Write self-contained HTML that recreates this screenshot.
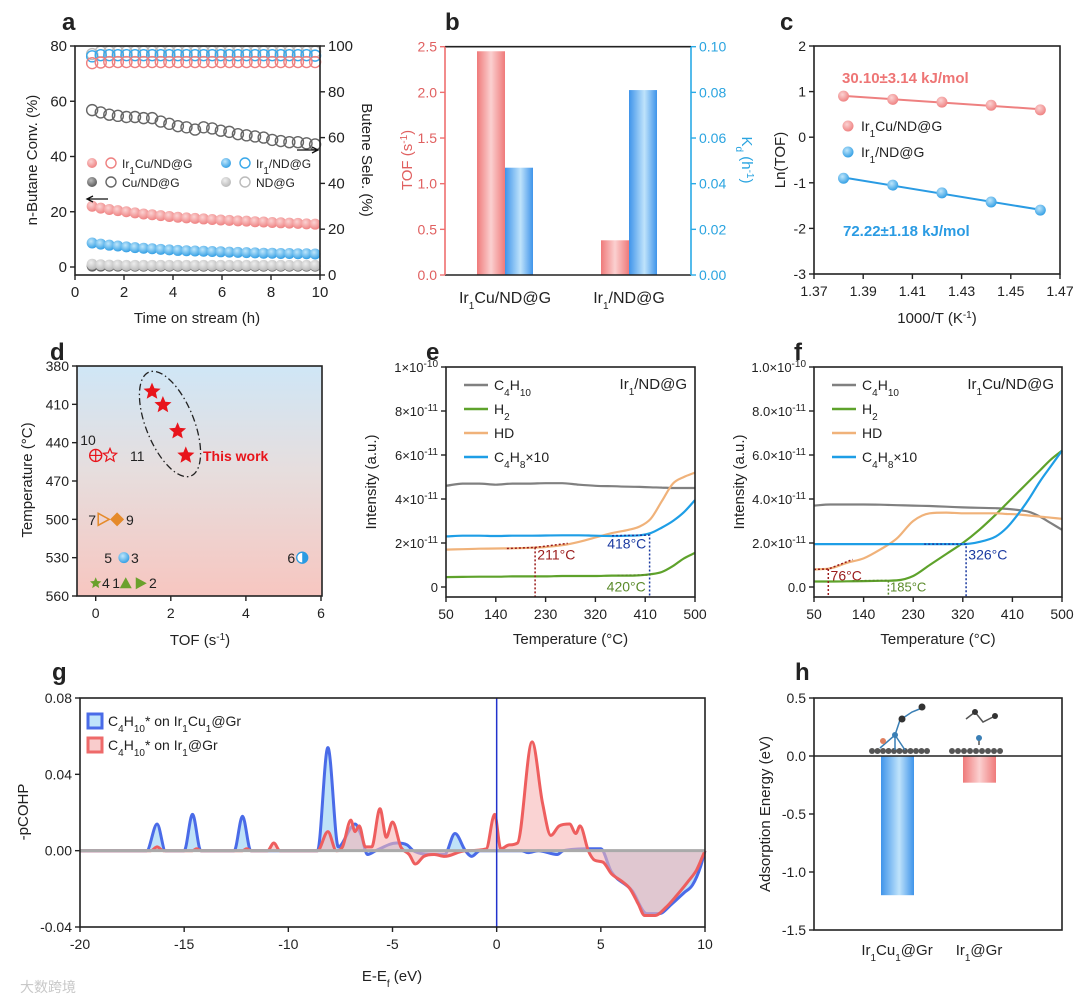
<!DOCTYPE html>
<html><head><meta charset="utf-8">
<style>
html,body{margin:0;padding:0;background:#fff;}
svg{display:block;font-family:"Liberation Sans",Arial,sans-serif;}
</style></head>
<body>
<svg id="fig" width="1080" height="1001" viewBox="0 0 1080 1001" xmlns="http://www.w3.org/2000/svg">
<defs>
<linearGradient id="gRedBar" x1="0" x2="1" y1="0" y2="0"><stop offset="0" stop-color="#ef7a7a"/><stop offset="0.5" stop-color="#fbd0d0"/><stop offset="1" stop-color="#ef7a7a"/></linearGradient>
<linearGradient id="gBlueBar" x1="0" x2="1" y1="0" y2="0"><stop offset="0" stop-color="#3f94ea"/><stop offset="0.55" stop-color="#bfe3fb"/><stop offset="1" stop-color="#3f94ea"/></linearGradient>
<linearGradient id="gBg" x1="0" x2="0" y1="0" y2="1"><stop offset="0" stop-color="#cfe6f6"/><stop offset="0.45" stop-color="#e6dede"/><stop offset="1" stop-color="#f7c6c0"/></linearGradient>
<radialGradient id="ballR" cx="0.4" cy="0.35" r="0.7"><stop offset="0" stop-color="#fbd3d3"/><stop offset="1" stop-color="#ee7d7d"/></radialGradient>
<radialGradient id="ballB" cx="0.4" cy="0.35" r="0.7"><stop offset="0" stop-color="#bfe6fb"/><stop offset="1" stop-color="#2b9be3"/></radialGradient>
<radialGradient id="ballK" cx="0.4" cy="0.35" r="0.7"><stop offset="0" stop-color="#bbb"/><stop offset="1" stop-color="#555"/></radialGradient>
<radialGradient id="ballG" cx="0.4" cy="0.35" r="0.7"><stop offset="0" stop-color="#eee"/><stop offset="1" stop-color="#b5b5b5"/></radialGradient>
</defs>
</svg>
<script>
// ---------- data ----------
const aTime = [0.7,1.05,1.4,1.75,2.1,2.45,2.8,3.15,3.5,3.85,4.2,4.55,4.9,5.25,5.6,5.95,6.3,6.65,7.0,7.35,7.7,8.05,8.4,8.75,9.1,9.45,9.8];
const aConvIrCu = [22,21.3,20.8,20.4,20,19.6,19.2,18.9,18.6,18.3,18,17.8,17.6,17.4,17.2,17,16.9,16.7,16.6,16.4,16.3,16.1,16,15.9,15.8,15.6,15.5];
const aConvIr = [8.7,8.3,7.9,7.6,7.3,7,6.8,6.6,6.4,6.2,6.0,5.9,5.8,5.7,5.6,5.5,5.4,5.3,5.2,5.1,5.0,5.0,4.9,4.9,4.8,4.8,4.7];
const aConvCu = [0.3,0.3,0.3,0.3,0.3,0.3,0.3,0.3,0.3,0.3,0.3,0.3,0.3,0.3,0.3,0.3,0.3,0.3,0.3,0.3,0.3,0.3,0.3,0.3,0.3,0.3,0.3];
const aConvND = [1.0,0.8,0.7,0.7,0.6,0.6,0.6,0.6,0.6,0.6,0.6,0.6,0.6,0.6,0.6,0.6,0.6,0.6,0.6,0.6,0.6,0.6,0.6,0.6,0.6,0.6,0.6];
const aSelIrCu = [92.5,92.8,93,93,93,93,93,93,93,93,93,93,93,93,93,93,93,93,93,93,93,93,93,93,93,93,93];
const aSelIr = [95.5,96,96,96,96,96,96,96,96,96,96,96,96,96,96,96,96,96,96,96,96,96,96,96,96,96,95.8];
const aSelND = [96.5,97.5,97.5,97.5,97.5,97.5,97.5,97.5,97.5,97.5,97.5,97.5,97.5,97.5,97.5,97.5,97.5,97.5,97.5,97.5,97.5,97.5,97.5,97.5,97.5,97.5,97.5];
const aSelCu = [72,71,70,69.5,69,69,68.5,68.5,67,66,65,64.5,63.5,64.5,64,63,62.5,61.5,61,60.5,60,59,58.5,58,58,57.5,57];

const bCats = ['Ir1Cu/ND@G','Ir1/ND@G'];
const bTOF = [2.45,0.38];
const bKd = [0.047,0.081];

const cX = [1.382,1.402,1.422,1.442,1.462];
const cIrCu = [0.90,0.83,0.77,0.70,0.60];
const cIr = [-0.90,-1.05,-1.22,-1.42,-1.60];

const dStarsTOF = [1.5,1.79,2.18,2.4];
const dStarsT = [400,410.5,431,450];

const eT = [50,80,110,140,170,200,230,260,290,320,350,380,400,420,440,460,480,500];
const eC4H10 = [4.6,4.7,4.7,4.65,4.7,4.7,4.72,4.72,4.65,4.6,4.58,4.56,4.55,4.53,4.52,4.5,4.5,4.5];
const eH2 = [0.45,0.46,0.47,0.47,0.48,0.48,0.48,0.5,0.5,0.5,0.52,0.52,0.53,0.58,0.68,0.95,1.3,1.55];
const eHD = [1.7,1.72,1.74,1.75,1.76,1.78,1.82,1.9,2.05,2.25,2.45,2.6,2.75,3.1,3.9,4.7,5.0,5.2];
const eC4H8 = [2.3,2.33,2.33,2.32,2.33,2.33,2.34,2.35,2.35,2.33,2.32,2.33,2.35,2.45,2.7,3.0,3.4,3.95];

const fC4H10 = [3.7,3.75,3.75,3.75,3.74,3.72,3.7,3.68,3.65,3.62,3.6,3.58,3.55,3.5,3.42,3.2,2.9,2.6];
const fH2 = [0.25,0.25,0.26,0.27,0.28,0.3,0.5,1.0,1.5,2.0,2.6,3.3,3.8,4.3,4.8,5.3,5.8,6.2];
const fHD = [0.8,0.85,1.1,1.3,1.7,2.2,3.0,3.35,3.38,3.35,3.35,3.35,3.32,3.3,3.25,3.2,3.15,3.1];
const fC4H8 = [1.95,1.95,1.95,1.95,1.95,1.95,1.95,1.95,1.95,1.95,2.05,2.3,2.7,3.3,4.0,4.8,5.5,6.2];

const gRedE = [-20,-16.6,-16.3,-16,-14.6,-14.4,-14.2,-12.2,-12.0,-11.8,-11,-10.7,-10.4,-8.6,-8.1,-7.7,-7.4,-7.0,-6.8,-6.6,-6.3,-6.0,-5.6,-5.3,-5.0,-4.6,-4.2,-3.9,-3.5,-3.0,-2.5,-1.5,-0.5,-0.1,0.2,0.6,1.0,1.7,2.2,2.6,3.0,3.5,3.8,4.0,4.4,4.7,5.1,5.5,6.0,6.4,6.8,7.1,7.6,8.1,8.6,9.2,9.6,10];
const gRedV = [0,0,0.002,0,0,0.001,0,0,0.001,0,0,0.004,0,0,0.010,0,0.002,0.016,0.010,0.013,0.002,0.002,0.022,0.007,0.015,0.002,-0.002,-0.007,-0.003,-0.002,-0.003,0,0.001,0.019,0.001,0.003,0.004,0.057,0.025,0.008,0.013,0.014,0.009,0.013,0,-0.005,-0.006,-0.012,-0.016,-0.020,-0.028,-0.034,-0.034,-0.030,-0.024,-0.016,-0.010,0];
const gBlueE = [-20,-16.8,-16.3,-15.9,-15.0,-14.6,-14.2,-12.6,-12.2,-11.8,-8.6,-8.1,-7.6,-7.0,-6.8,-6.5,-6.2,-5.8,-4.8,-4.3,-4.0,-3.0,-2.5,-2.0,-1.5,-1.2,-0.8,1.2,1.5,2,2.9,3.2,4.5,5,5.5,6.5,7.2,7.8,8.4,9.0,9.4,9.8,10];
const gBlueV = [0,0,0.014,0,0,0.019,0,0,0.018,0,0,0.054,0.002,0.012,0.014,0.008,-0.002,0,0.004,0.003,0,-0.002,-0.002,0.009,0,-0.003,0,0,-0.001,0,-0.002,0,0.001,0.001,-0.011,-0.021,-0.033,-0.033,-0.028,-0.022,-0.018,-0.008,0];

const hCats = ['Ir1Cu1@Gr','Ir1@Gr'];
const hE = [-1.2,-0.23];

// ---------- helpers ----------
const svg = document.getElementById('fig');
const NS = 'http://www.w3.org/2000/svg';
function mk(tag, attrs, name, parent){
  const el = document.createElementNS(NS, tag);
  for (const k in attrs) el.setAttribute(k, attrs[k]);
  
  
  (parent||svg).appendChild(el);
  return el;
}
function txt(x,y,html,name,opt){
  opt = opt||{};
  const el = mk('text',{x:x,y:y,'font-size':opt.size||14,'text-anchor':opt.anchor||'middle',fill:opt.fill||'#222','font-weight':opt.weight||'normal'},name);
  if (opt.rot!==undefined) el.setAttribute('transform','rotate('+opt.rot+' '+x+' '+y+')');
  el.innerHTML = html;
  return el;
}
const sub = s => '<tspan baseline-shift="sub" font-size="10">'+s+'</tspan>';
const sup = s => '<tspan baseline-shift="super" font-size="10">'+s+'</tspan>';
function lin(d0,d1,p0,p1){ return v => p0 + (v-d0)*(p1-p0)/(d1-d0); }
function box(x0,y0,x1,y1,name){ mk('rect',{x:x0,y:y0,width:x1-x0,height:y1-y0,fill:'none',stroke:'#222','stroke-width':1.6},name); }
function yTicks(sc,x,vals,labels,side,name,opt){
  opt=opt||{};
  vals.forEach((v,i)=>{
    const y=sc(v); const d = side==='left'?-5:5;
    mk('line',{x1:x,x2:x+d,y1:y,y2:y,stroke:opt.stroke||'#222','stroke-width':1.4},name+'-tick');
    if (labels) txt(x+(side==='left'?-8:8), y+5, labels[i], name+'-label', {anchor:side==='left'?'end':'start', fill:opt.fill, size:opt.size});
  });
}
function xTicks(sc,y,vals,labels,name,opt){
  opt=opt||{};
  vals.forEach((v,i)=>{
    const x=sc(v);
    mk('line',{x1:x,x2:x,y1:y,y2:y+5,stroke:'#222','stroke-width':1.4},name+'-tick');
    txt(x, y+22, labels[i], name+'-label', {size:opt.size});
  });
}
function polyD(xs,ys){ return xs.map((x,i)=>(i?'L':'M')+x.toFixed(1)+' '+ys[i].toFixed(1)).join(''); }
// monotone cubic (Fritsch-Carlson) – no overshoot
function monoD(xs,ys){
  const n=xs.length, d=[], m=new Array(n);
  for(let i=0;i<n-1;i++) d.push((ys[i+1]-ys[i])/(xs[i+1]-xs[i]));
  m[0]=d[0]; m[n-1]=d[n-2];
  for(let i=1;i<n-1;i++){ m[i]=(d[i-1]*d[i]<=0)?0:(d[i-1]+d[i])/2; }
  for(let i=0;i<n-1;i++){
    if(d[i]===0){m[i]=0;m[i+1]=0;continue;}
    const a=m[i]/d[i], b=m[i+1]/d[i], s=a*a+b*b;
    if(s>9){const t=3/Math.sqrt(s); m[i]=t*a*d[i]; m[i+1]=t*b*d[i];}
  }
  let p='M'+xs[0].toFixed(1)+' '+ys[0].toFixed(1);
  for(let i=0;i<n-1;i++){
    const h=(xs[i+1]-xs[i])/3;
    p+='C'+(xs[i]+h).toFixed(1)+' '+(ys[i]+m[i]*h).toFixed(1)+' '+(xs[i+1]-h).toFixed(1)+' '+(ys[i+1]-m[i+1]*h).toFixed(1)+' '+xs[i+1].toFixed(1)+' '+ys[i+1].toFixed(1);
  }
  return p;
}

// ---------- panel a ----------
(function(){
  const X=lin(0,10,75,320), YL=lin(0,80,267,46), YR=lin(0,100,275,46);
  txt(62,30,'a','panel-label-a',{size:24,weight:'bold',anchor:'start'});
  const series=[[aSelCu,'#666','sel-cu'],[aSelND,'#bbb','sel-nd'],[aSelIr,'#39a8ea','sel-ir'],[aSelIrCu,'#ee8080','sel-ircu']];
  series.forEach(s=>{ aTime.forEach((t,i)=>{ mk('circle',{cx:X(t),cy:YR(s[0][i]),r:5.5,fill:'none',stroke:s[1],'stroke-width':1.4},s[2]+'-point'); }); });
  const conv=[[aConvCu,'url(#ballK)','conv-cu'],[aConvND,'url(#ballG)','conv-nd'],[aConvIr,'url(#ballB)','conv-ir'],[aConvIrCu,'url(#ballR)','conv-ircu']];
  conv.forEach(s=>{ aTime.forEach((t,i)=>{ mk('circle',{cx:X(t),cy:YL(s[0][i]),r:5.5,fill:s[1]},s[2]+'-point'); }); });
  box(75,46,320,275,'plot-frame-a');
  yTicks(YL,75,[0,20,40,60,80],['0','20','40','60','80'],'left','y-axis-left-a',{size:15});
  yTicks(YR,320,[0,20,40,60,80,100],['0','20','40','60','80','100'],'right','y-axis-right-a',{size:15});
  xTicks(X,275,[0,2,4,6,8,10],['0','2','4','6','8','10'],'x-axis-a',{size:15});
  txt(37,160,'n-Butane Conv. (%)','y-axis-title-a',{size:15,rot:-90});
  txt(362,160,'Butene Sele. (%)','y-axis-title-right-a',{size:15,rot:90});
  txt(197,323,'Time on stream (h)','x-axis-title-a',{size:15});
  mk('circle',{cx:92,cy:163,r:5,fill:'url(#ballR)'},'legend-marker');
  mk('circle',{cx:111,cy:163,r:5,fill:'none',stroke:'#ee8080','stroke-width':1.4},'legend-marker');
  txt(122,168,'Ir'+sub('1')+'Cu/ND@G','legend-entry-ircu',{anchor:'start',size:12});
  mk('circle',{cx:92,cy:182,r:5,fill:'url(#ballK)'},'legend-marker');
  mk('circle',{cx:111,cy:182,r:5,fill:'none',stroke:'#666','stroke-width':1.4},'legend-marker');
  txt(122,187,'Cu/ND@G','legend-entry-cu',{anchor:'start',size:12});
  mk('circle',{cx:226,cy:163,r:5,fill:'url(#ballB)'},'legend-marker');
  mk('circle',{cx:245,cy:163,r:5,fill:'none',stroke:'#39a8ea','stroke-width':1.4},'legend-marker');
  txt(256,168,'Ir'+sub('1')+'/ND@G','legend-entry-ir',{anchor:'start',size:12});
  mk('circle',{cx:226,cy:182,r:5,fill:'url(#ballG)'},'legend-marker');
  mk('circle',{cx:245,cy:182,r:5,fill:'none',stroke:'#bbb','stroke-width':1.4},'legend-marker');
  txt(256,187,'ND@G','legend-entry-nd',{anchor:'start',size:12});
  mk('path',{d:'M108 199 L88 199 M93 196 L87 199 L93 202',stroke:'#111','stroke-width':1.3,fill:'none'},'arrow-left-axis');
  mk('path',{d:'M297 150 L317 150 M312 147 L318 150 L312 153',stroke:'#111','stroke-width':1.3,fill:'none'},'arrow-right-axis');
})();

// ---------- panel b ----------
(function(){
  const YL=lin(0,2.5,275,46.7), YR=lin(0,0.10,275,46.7);
  txt(445,30,'b','panel-label-b',{size:24,weight:'bold',anchor:'start'});
  const cx=[505,629];
  bCats.forEach((c,i)=>{
    mk('rect',{x:cx[i]-28,y:YL(bTOF[i]),width:28,height:275-YL(bTOF[i]),fill:'url(#gRedBar)'},'bar-tof-'+i);
    mk('rect',{x:cx[i],y:YR(bKd[i]),width:28,height:275-YR(bKd[i]),fill:'url(#gBlueBar)'},'bar-kd-'+i);
  });
  mk('line',{x1:445,x2:691,y1:46.7,y2:46.7,stroke:'#222','stroke-width':1.6},'plot-top-b');
  mk('line',{x1:445,x2:691,y1:275,y2:275,stroke:'#222','stroke-width':1.6},'plot-bottom-b');
  mk('line',{x1:445,x2:445,y1:46.7,y2:275,stroke:'#ee7070','stroke-width':1.6},'y-axis-left-b');
  mk('line',{x1:691,x2:691,y1:46.7,y2:275,stroke:'#2aaae6','stroke-width':1.6},'y-axis-right-b');
  yTicks(YL,445,[0,0.5,1,1.5,2,2.5],['0.0','0.5','1.0','1.5','2.0','2.5'],'left','y-axis-left-b',{fill:'#e06060',stroke:'#ee7070'});
  yTicks(YR,691,[0,0.02,0.04,0.06,0.08,0.10],['0.00','0.02','0.04','0.06','0.08','0.10'],'right','y-axis-right-b',{fill:'#2aa4e0',stroke:'#2aaae6'});
  txt(505,303,'Ir'+sub('1')+'Cu/ND@G','x-category-ircu',{size:16});
  txt(629,303,'Ir'+sub('1')+'/ND@G','x-category-ir',{size:16});
  txt(412,160,'TOF (s'+sup('-1')+')','y-axis-title-b',{size:15,rot:-90,fill:'#e06060'});
  txt(742,160,'K'+sub('d')+' (h'+sup('-1')+')','y-axis-title-right-b',{size:15,rot:90,fill:'#2aa4e0'});
})();

// ---------- panel c ----------
(function(){
  const X=lin(1.37,1.47,814,1060), Y=lin(-3,2,274,46);
  txt(780,30,'c','panel-label-c',{size:24,weight:'bold',anchor:'start'});
  box(814,46,1060,274,'plot-frame-c');
  [[cIrCu,'#ee8080','url(#ballR)','ircu'],[cIr,'#2a9be3','url(#ballB)','ir']].forEach(s=>{
    const n=cX.length, mx=cX.reduce((a,b)=>a+b)/n, my=s[0].reduce((a,b)=>a+b)/n;
    let sxy=0,sxx=0; cX.forEach((x,i)=>{sxy+=(x-mx)*(s[0][i]-my);sxx+=(x-mx)*(x-mx);});
    const k=sxy/sxx;
    mk('line',{x1:X(cX[0]),y1:Y(my+k*(cX[0]-mx)),x2:X(cX[n-1]),y2:Y(my+k*(cX[n-1]-mx)),stroke:s[1],'stroke-width':2},'fit-line-'+s[3]);
    cX.forEach((x,i)=>{ mk('circle',{cx:X(x),cy:Y(s[0][i]),r:5.5,fill:s[2]},'point-'+s[3]); });
  });
  yTicks(Y,814,[-3,-2,-1,0,1,2],['-3','-2','-1','0','1','2'],'left','y-axis-c');
  xTicks(X,274,[1.37,1.39,1.41,1.43,1.45,1.47],['1.37','1.39','1.41','1.43','1.45','1.47'],'x-axis-c');
  txt(785,160,'Ln(TOF)','y-axis-title-c',{size:15,rot:-90});
  txt(937,323,'1000/T (K'+sup('-1')+')','x-axis-title-c',{size:15});
  txt(842,83,'30.10±3.14 kJ/mol','annotation-ircu',{size:15,weight:'bold',fill:'#ee7575',anchor:'start'});
  txt(843,236,'72.22±1.18 kJ/mol','annotation-ir',{size:15,weight:'bold',fill:'#2a9be3',anchor:'start'});
  mk('circle',{cx:848,cy:126,r:5.5,fill:'url(#ballR)'},'legend-marker');
  txt(861,131,'Ir'+sub('1')+'Cu/ND@G','legend-entry-ircu-c',{anchor:'start',size:14});
  mk('circle',{cx:848,cy:152,r:5.5,fill:'url(#ballB)'},'legend-marker');
  txt(861,157,'Ir'+sub('1')+'/ND@G','legend-entry-ir-c',{anchor:'start',size:14});
})();

// ---------- panel d ----------
(function(){
  const X=lin(0,6,95.7,321), Y=lin(380,560,366,596);
  txt(50,360,'d','panel-label-d',{size:24,weight:'bold',anchor:'start'});
  mk('rect',{x:77,y:366,width:245,height:230,fill:'url(#gBg)'},'plot-background-d');
  box(77,366,322,596,'plot-frame-d');
  mk('ellipse',{cx:170,cy:424,rx:24,ry:56,transform:'rotate(-22 170 424)',fill:'none',stroke:'#222','stroke-width':1.3,'stroke-dasharray':'7 3 1.5 3'},'highlight-ellipse');
  function star(cx,cy,r,fill,stroke,name){
    let p=''; for(let i=0;i<10;i++){const a=-Math.PI/2+i*Math.PI/5, rr=i%2?r*0.45:r; p+=(cx+rr*Math.cos(a)).toFixed(1)+','+(cy+rr*Math.sin(a)).toFixed(1)+' ';}
    mk('polygon',{points:p,fill:fill,stroke:stroke,'stroke-width':1.2},name);
  }
  dStarsTOF.forEach((t,i)=>star(X(t),Y(dStarsT[i]),9,'#e8141b','none','this-work-star'));
  txt(203,461,'This work','label-this-work',{size:14,weight:'bold',fill:'#e8141b',anchor:'start'});
  mk('circle',{cx:X(0),cy:Y(450),r:6,fill:'none',stroke:'#e8141b','stroke-width':1.4},'ref-10');
  mk('path',{d:'M'+(X(0)-6)+' '+Y(450)+'h12M'+X(0)+' '+(Y(450)-6)+'v12',stroke:'#e8141b','stroke-width':1.2},'ref-10-cross');
  star(X(0.38),Y(450),7,'none','#e8141b','ref-11');
  txt(88,445,'10','label-10',{size:14});
  txt(130,461,'11','label-11',{size:14,anchor:'start'});
  mk('polygon',{points:(X(0.2)-5)+','+(Y(500)-6)+' '+(X(0.2)+6)+','+Y(500)+' '+(X(0.2)-5)+','+(Y(500)+6),fill:'none',stroke:'#e58a2a','stroke-width':1.5},'ref-7');
  mk('polygon',{points:X(0.57)+','+(Y(500)-7)+' '+(X(0.57)+7)+','+Y(500)+' '+X(0.57)+','+(Y(500)+7)+' '+(X(0.57)-7)+','+Y(500),fill:'#e58a2a'},'ref-9');
  txt(96,525,'7','label-7',{size:14,anchor:'end'});
  txt(126,525,'9','label-9',{size:14,anchor:'start'});
  mk('circle',{cx:X(0.75),cy:Y(530),r:5.5,fill:'url(#ballB)'},'ref-5-3');
  txt(112,563,'5','label-5',{size:14,anchor:'end'});
  txt(131,563,'3','label-3',{size:14,anchor:'start'});
  mk('circle',{cx:X(5.5),cy:Y(530),r:5.5,fill:'#fff',stroke:'#2a9be3','stroke-width':1.3},'ref-6');
  mk('path',{d:'M'+X(5.5)+' '+(Y(530)-5.5)+'A5.5 5.5 0 0 1 '+X(5.5)+' '+(Y(530)+5.5)+'Z',fill:'#2a9be3'},'ref-6-half');
  txt(X(5.5)-7,563,'6','label-6',{size:14,anchor:'end'});
  star(X(0),Y(550),6,'#6aa12c','none','ref-4');
  txt(102,588,'4','label-4',{size:14,anchor:'start'});
  mk('polygon',{points:X(0.8)+','+(Y(550)-6)+' '+(X(0.8)+6)+','+(Y(550)+5)+' '+(X(0.8)-6)+','+(Y(550)+5),fill:'#6aa12c'},'ref-1');
  txt(120,588,'1','label-1',{size:14,anchor:'end'});
  mk('polygon',{points:(X(1.2)-5)+','+(Y(550)-6)+' '+(X(1.2)+6)+','+Y(550)+' '+(X(1.2)-5)+','+(Y(550)+6),fill:'#6aa12c'},'ref-2');
  txt(149,588,'2','label-2',{size:14,anchor:'start'});
  yTicks(Y,77,[380,410,440,470,500,530,560],['380','410','440','470','500','530','560'],'left','y-axis-d');
  xTicks(X,596,[0,2,4,6],['0','2','4','6'],'x-axis-d');
  txt(32,480,'Temperature (°C)','y-axis-title-d',{size:15,rot:-90});
  txt(200,645,'TOF (s'+sup('-1')+')','x-axis-title-d',{size:15});
})();

// ---------- panels e, f ----------
function tpd(x0,x1,letter,data,labelFmt,title,ann){
  const X=lin(50,500,x0,x1), Y=lin(0,10,587,367);
  txt(x0-20,360,letter,'panel-label-'+letter,{size:24,weight:'bold',anchor:'start'});
  const cols=['#808080','#5ea22b','#f0b27a','#1e9ee6'];
  data.forEach((s,k)=>{
    mk('path',{d:monoD(eT.map(X),s.map(Y)),fill:'none',stroke:cols[k],'stroke-width':2.2,'stroke-linejoin':'round'},'line-'+letter+'-'+k);
  });
  ann(X,Y);
  box(x0,367,x1,597,'plot-frame-'+letter);
  yTicks(Y,x0,[0,2,4,6,8,10],labelFmt,'left','y-axis-'+letter,{size:13});
  xTicks(X,597,[50,140,230,320,410,500],['50','140','230','320','410','500'],'x-axis-'+letter);
  txt(x0-70,482,'Intensity (a.u.)','y-axis-title-'+letter,{size:15,rot:-90});
  txt((x0+x1)/2,644,'Temperature (°C)','x-axis-title-'+letter,{size:15});
  const leg=['C'+sub('4')+'H'+sub('10'),'H'+sub('2'),'HD','C'+sub('4')+'H'+sub('8')+'×10'];
  leg.forEach((l,k)=>{
    const y=385+k*24;
    mk('line',{x1:x0+18,x2:x0+42,y1:y,y2:y,stroke:cols[k],'stroke-width':2.5},'legend-line');
    txt(x0+48,y+5,l,'legend-entry-'+letter+'-'+k,{anchor:'start',size:14});
  });
  txt(x1-8,389,title,'panel-title-'+letter,{anchor:'end',size:15});
}
function dotted(X,Y,pts,col,name){ mk('path',{d:polyD(pts.map(p=>X(p[0])),pts.map(p=>p[1]===null?597:Y(p[1]))),fill:'none',stroke:col,'stroke-width':1.5,'stroke-dasharray':'2 2'},name); }
tpd(446,695,'e',[eC4H10,eH2,eHD,eC4H8],['0','2×10'+sup('-11'),'4×10'+sup('-11'),'6×10'+sup('-11'),'8×10'+sup('-11'),'1×10'+sup('-10')],'Ir'+sub('1')+'/ND@G',(X,Y)=>{
  dotted(X,Y,[[160,1.75],[211,1.8],[270,1.98]],'#9a1b1b','onset-line-211');
  dotted(X,Y,[[211,1.8],[211,null]],'#9a1b1b','onset-drop-211');
  txt(X(215),Y(1.25),'211°C','onset-label-211',{anchor:'start',size:14,fill:'#9a1b1b'});
  dotted(X,Y,[[350,2.33],[418,2.36],[418,null]],'#1b3aa0','onset-line-418');
  txt(X(412),Y(1.75),'418°C','onset-label-418',{anchor:'end',size:14,fill:'#1b3aa0'});
  dotted(X,Y,[[360,0.53],[420,0.55]],'#5a8a2a','onset-line-420');
  txt(X(411),Y(-0.2),'420°C','onset-label-420',{anchor:'end',size:14,fill:'#5a8a2a'});
});
tpd(814,1062,'f',[fC4H10,fH2,fHD,fC4H8],['0.0','2.0×10'+sup('-11'),'4.0×10'+sup('-11'),'6.0×10'+sup('-11'),'8.0×10'+sup('-11'),'1.0×10'+sup('-10')],'Ir'+sub('1')+'Cu/ND@G',(X,Y)=>{
  dotted(X,Y,[[50,0.8],[76,0.82],[120,1.25]],'#9a1b1b','onset-line-76');
  dotted(X,Y,[[76,0.82],[76,null]],'#9a1b1b','onset-drop-76');
  txt(X(80),Y(0.3),'76°C','onset-label-76',{anchor:'start',size:14,fill:'#9a1b1b'});
  dotted(X,Y,[[120,0.28],[185,0.3],[185,null]],'#5a8a2a','onset-line-185');
  txt(X(188),Y(-0.2),'185°C','onset-label-185',{anchor:'start',size:13,fill:'#5a8a2a'});
  dotted(X,Y,[[250,1.95],[326,1.95],[326,null]],'#1b3aa0','onset-line-326');
  txt(X(330),Y(1.25),'326°C','onset-label-326',{anchor:'start',size:14,fill:'#1b3aa0'});
});

// ---------- panel g ----------
(function(){
  const X=lin(-20,10,80,705), Y=lin(-0.04,0.08,927,698);
  txt(52,680,'g','panel-label-g',{size:24,weight:'bold',anchor:'start'});
  const y0=Y(0);
  const bd=monoD(gBlueE.map(X),gBlueV.map(Y));
  mk('path',{d:bd+'L'+X(10)+' '+y0+'L'+X(-20)+' '+y0+'Z',fill:'#a9d8f6','fill-opacity':0.75,stroke:'none'},'area-ircu1');
  mk('path',{d:bd,fill:'none',stroke:'#4a6be8','stroke-width':3},'line-ircu1');
  const rd=monoD(gRedE.map(X),gRedV.map(Y));
  mk('path',{d:rd+'L'+X(10)+' '+y0+'L'+X(-20)+' '+y0+'Z',fill:'#f7b5b5','fill-opacity':0.6,stroke:'none'},'area-ir1');
  mk('path',{d:rd,fill:'none',stroke:'#ee5e5e','stroke-width':3},'line-ir1');
  mk('line',{x1:X(-20),x2:X(10),y1:y0,y2:y0,stroke:'#aaa','stroke-width':3},'zero-line');
  mk('line',{x1:X(0),x2:X(0),y1:698,y2:927,stroke:'#2233cc','stroke-width':1.5},'fermi-level-line');
  box(80,698,705,927,'plot-frame-g');
  yTicks(Y,80,[-0.04,0,0.04,0.08],['-0.04','0.00','0.04','0.08'],'left','y-axis-g');
  xTicks(X,927,[-20,-15,-10,-5,0,5,10],['-20','-15','-10','-5','0','5','10'],'x-axis-g');
  txt(28,812,'-pCOHP','y-axis-title-g',{size:15,rot:-90});
  txt(392,981,'E-E'+sub('f')+' (eV)','x-axis-title-g',{size:15});
  mk('rect',{x:88,y:714,width:14,height:14,fill:'#bfe3fb',stroke:'#4a6be8','stroke-width':3},'legend-swatch-ircu1');
  txt(108,726,'C'+sub('4')+'H'+sub('10')+'* on Ir'+sub('1')+'Cu'+sub('1')+'@Gr','legend-entry-ircu1',{anchor:'start',size:14});
  mk('rect',{x:88,y:738,width:14,height:14,fill:'#f9cccc',stroke:'#ee6a6a','stroke-width':3},'legend-swatch-ir1');
  txt(108,750,'C'+sub('4')+'H'+sub('10')+'* on Ir'+sub('1')+'@Gr','legend-entry-ir1',{anchor:'start',size:14});
})();

// ---------- panel h ----------
(function(){
  const Y=lin(-1.5,0.5,930,698);
  txt(795,680,'h','panel-label-h',{size:24,weight:'bold',anchor:'start'});
  const cx=[897,979], fills=['url(#gBlueBar)','url(#gRedBar)'];
  hCats.forEach((c,i)=>{
    mk('rect',{x:cx[i]-16,y:Y(0),width:33,height:Y(hE[i])-Y(0),fill:fills[i]},'bar-'+i);
  });
  const mol=mk('g',{},'adsorption-structure-ircu1');
  for(let i=0;i<11;i++) mk('circle',{cx:872+i*5.5,cy:751,r:3,fill:'#555'},'atom',mol);
  for(let i=0;i<9;i++) mk('circle',{cx:952+i*6,cy:751,r:3,fill:'#555'},'atom',mol);
  mk('path',{d:'M895 735 L880 748 M895 735 L895 750 M895 735 L905 750 M895 735 L900 720 L912 712 L922 708',stroke:'#3a7fb5','stroke-width':1.5,fill:'none'},'bonds',mol);
  mk('circle',{cx:895,cy:735,r:3,fill:'#3a7fb5'},'atom-ir',mol);
  mk('circle',{cx:883,cy:741,r:3,fill:'#e08060'},'atom-cu',mol);
  mk('circle',{cx:902,cy:719,r:3.5,fill:'#333'},'atom-c',mol);
  mk('circle',{cx:922,cy:707,r:3.5,fill:'#333'},'atom-c',mol);
  mk('path',{d:'M979 745 L979 738 M966 719 L975 712 L983 722 L995 716',stroke:'#555','stroke-width':1.5,fill:'none'},'bonds-ir1',mol);
  mk('circle',{cx:979,cy:738,r:3,fill:'#3a7fb5'},'atom-ir',mol);
  mk('circle',{cx:975,cy:712,r:3,fill:'#333'},'atom-c',mol);
  mk('circle',{cx:995,cy:716,r:3,fill:'#333'},'atom-c',mol);
  mk('line',{x1:814,x2:1062,y1:Y(0),y2:Y(0),stroke:'#222','stroke-width':1.6},'zero-line-h');
  box(814,698,1062,930,'plot-frame-h');
  yTicks(Y,814,[-1.5,-1,-0.5,0,0.5],['-1.5','-1.0','-0.5','0.0','0.5'],'left','y-axis-h');
  txt(897,955,'Ir'+sub('1')+'Cu'+sub('1')+'@Gr','x-category-ircu1',{size:15});
  txt(979,955,'Ir'+sub('1')+'@Gr','x-category-ir1',{size:15});
  txt(770,814,'Adsorption Energy (eV)','y-axis-title-h',{size:15,rot:-90});
})();
const wm = txt(20,992,'大数跨境','watermark',{size:14,anchor:'start',fill:'#c8c8c8'});
wm.setAttribute('font-family','"Liberation Sans","Noto Sans CJK SC",sans-serif');
</script>
</body></html>
